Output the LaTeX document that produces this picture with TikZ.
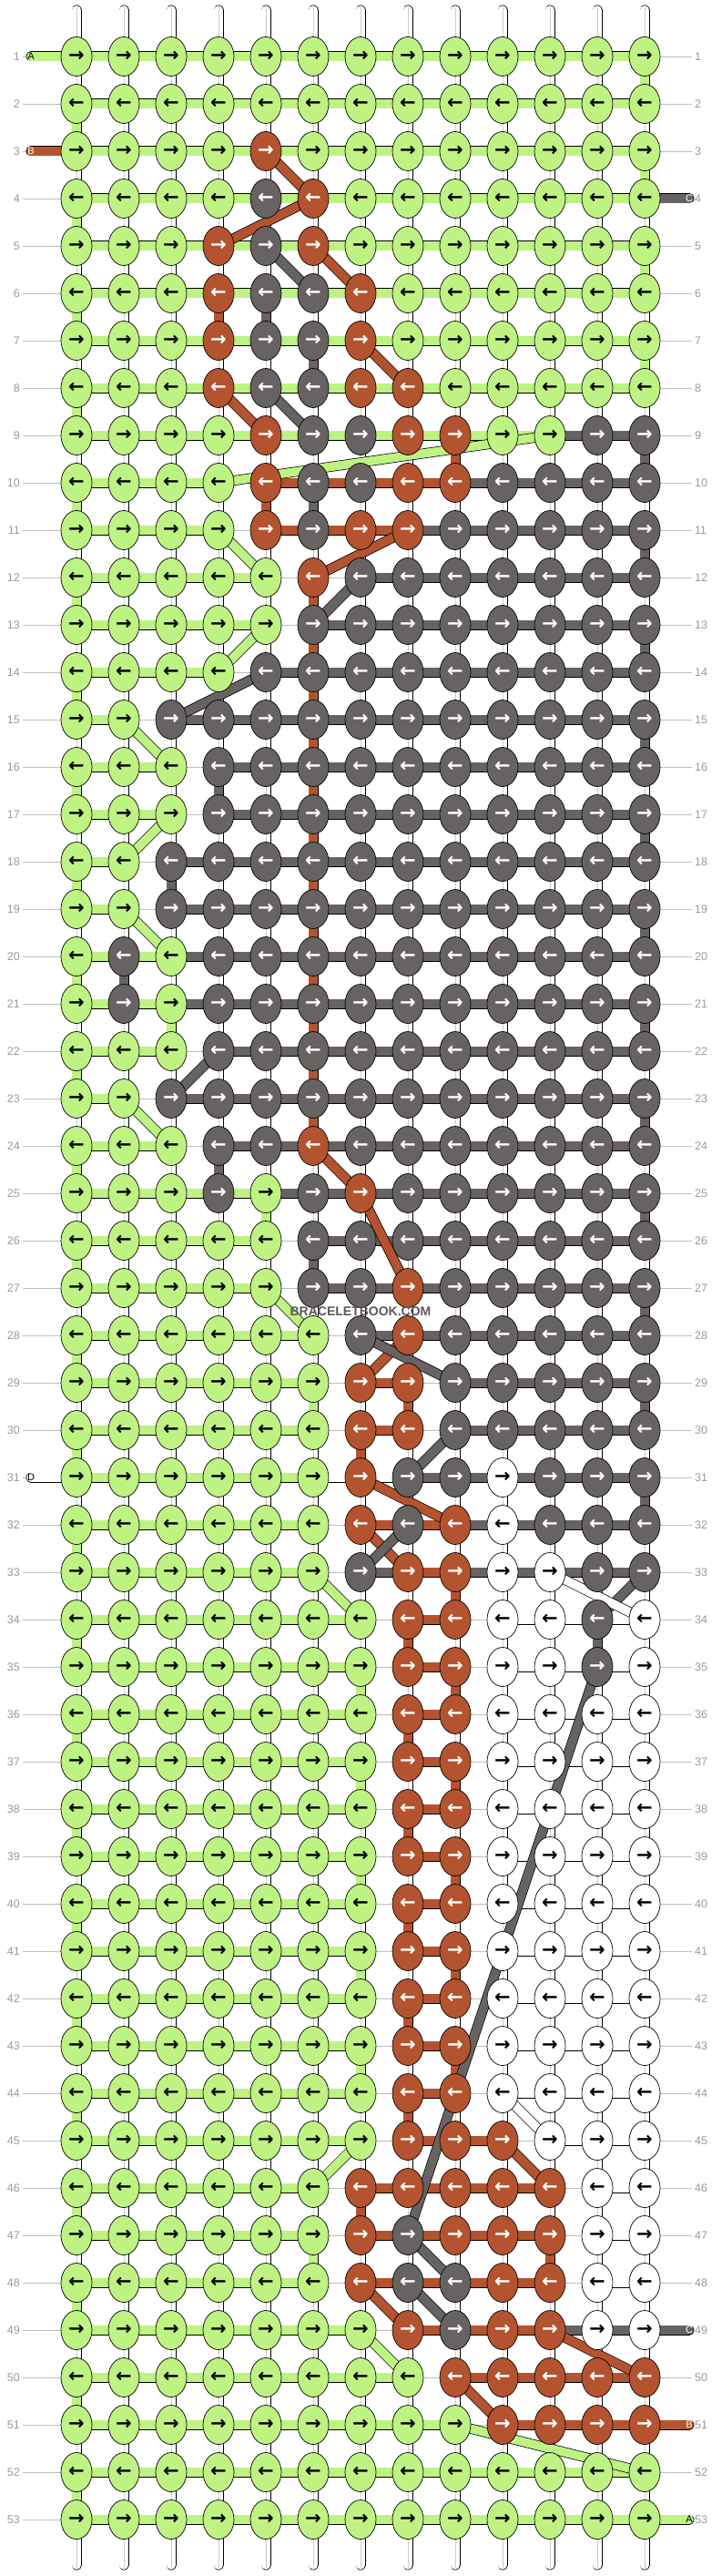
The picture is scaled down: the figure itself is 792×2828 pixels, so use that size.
\documentclass[tikz,border=0pt]{standalone}
\usepackage{fontspec}
\setmainfont{Liberation Sans}
\newfontfamily\arrowfont{DejaVu Sans}
\usepackage{xstring}
\usetikzlibrary{shapes.geometric}

% thread colours and the arrow colour on each
\definecolor{G}{HTML}{BEF282}
\definecolor{B}{HTML}{B4532F}
\definecolor{K}{HTML}{676362}
\definecolor{W}{HTML}{FFFFFF}
\colorlet{tG}{black}
\colorlet{tB}{white}
\colorlet{tK}{white}
\colorlet{tW}{black}

\pgfdeclarelayer{strings}
\pgfdeclarelayer{threads}
\pgfsetlayers{strings,threads,main}

% one row of knots: row, knot colours, row numbers
\newcommand\placeknots[4]{%
  \foreach \cc in {1,...,13} {%
    \StrChar{#2}{\cc}[\kc]%
    \node[knot=\kc,text=t\kc] (k-#1-\cc) at ({84+52*(\cc-1)},{62+52*(#1-1)})
      {\ifodd#1\relax →\else ←\fi};
  }%
  \node[rowlab,anchor=east] (ll-#1) at (25,{62+52*(#1-1)}) {#1};
  \node[rowlab,anchor=west] (rl-#1) at (760,{62+52*(#1-1)}) {#1};
}
% threads of one row: along the row, then down to the next row
\newcommand\drawthreads[4]{%
  \foreach \cc in {1,...,12} {%
    \pgfmathtruncatemacro\cn{\cc+1}%
    \StrChar{#3}{\cc}[\sc]%
    \IfStrEq{\sc}{-}{}{\draw[thread=\sc] (k-#1-\cc.center) -- (k-#1-\cn.center);}%
  }%
  \ifnum#1<53
    \pgfmathtruncatemacro\rn{#1+1}%
    \foreach \cc in {1,...,13} {%
      \StrChar{#4}{\cc}[\vc]%
      \IfStrEq{\vc}{-}{}{\draw[thread=\vc] (k-#1-\cc.center) -- (k-\rn-\cc.center);}%
    }%
  \fi
}

% row / knot colours / threads along the row / threads down to next row
\def\knotrows{%
\prow{1}{GGGGGGGGGGGGG}{GGGGGGGGGGGG}{------------G}%
\prow{2}{GGGGGGGGGGGGG}{GGGGGGGGGGGG}{G------------}%
\prow{3}{GGGGBGGGGGGGG}{GGGGGGGGGGGG}{------------G}%
\prow{4}{GGGGKBGGGGGGG}{GGGGGGGGGGGG}{G------------}%
\prow{5}{GGGBKBGGGGGGG}{GGGGGGGGGGGG}{------------G}%
\prow{6}{GGGBKKBGGGGGG}{GGGGGGGGGGGG}{G--BK--------}%
\prow{7}{GGGBKKBGGGGGG}{GGGGGGGGGGGG}{-----K------G}%
\prow{8}{GGGBKKBBGGGGG}{GGGGGGGGGGGG}{G------------}%
\prow{9}{GGGGBKKBBGGKK}{GGGGGGGGGGKK}{--------B---K}%
\prow{10}{GGGGBKKBBKKKK}{GGG-BBBBKKKK}{G---BK-------}%
\prow{11}{GGGGBKBBKKKKK}{GGG-BBBKKKKK}{------------K}%
\prow{12}{GGGGGBKKKKKKK}{GGGG--KKKKKK}{G----B-------}%
\prow{13}{GGGGGKKKKKKKK}{GGGG-KKKKKKK}{-----B------K}%
\prow{14}{GGGGKKKKKKKKK}{GGG-KKKKKKKK}{G----B-------}%
\prow{15}{GGKKKKKKKKKKK}{G-KKKKKKKKKK}{-----B------K}%
\prow{16}{GGGKKKKKKKKKK}{GG-KKKKKKKKK}{G--K-B-------}%
\prow{17}{GGGKKKKKKKKKK}{GG-KKKKKKKKK}{-----B------K}%
\prow{18}{GGKKKKKKKKKKK}{G-KKKKKKKKKK}{G-K--B-------}%
\prow{19}{GGKKKKKKKKKKK}{G-KKKKKKKKKK}{-----B------K}%
\prow{20}{GKGKKKKKKKKKK}{GGKKKKKKKKKK}{GK---B-------}%
\prow{21}{GKGKKKKKKKKKK}{GGKKKKKKKKKK}{--G--B------K}%
\prow{22}{GGGKKKKKKKKKK}{GG-KKKKKKKKK}{G----B-------}%
\prow{23}{GGKKKKKKKKKKK}{G-KKKKKKKKKK}{-----B------K}%
\prow{24}{GGGKKBKKKKKKK}{GG-KKKKKKKKK}{G--K---------}%
\prow{25}{GGGKGKBKKKKKK}{GGGGKKKKKKKK}{----G-------K}%
\prow{26}{GGGGGKKKKKKKK}{GGGG-KKKKKKK}{G----K-------}%
\prow{27}{GGGGGKKBKKKKK}{GGGG-KKKKKKK}{------------K}%
\prow{28}{GGGGGGKBKKKKK}{GGGGG-KKKKKK}{G------------}%
\prow{29}{GGGGGGBBKKKKK}{GGGGG-B-KKKK}{-----G-B----K}%
\prow{30}{GGGGGGBBKKKKK}{GGGGG-B-KKKK}{G-----B------}%
\prow{31}{GGGGGGBKKWKKK}{GGGGGWWKKKKK}{------------K}%
\prow{32}{GGGGGGBKBWKKK}{GGGGG-BBKKKK}{G------------}%
\prow{33}{GGGGGGKBBWWKK}{GGGGG-KBKKKK}{--------B----}%
\prow{34}{GGGGGGGBBWWKW}{GGGGGG-B-WWW}{G------B---K-}%
\prow{35}{GGGGGGGBBWWKW}{GGGGGG-B-WWW}{------G-B----}%
\prow{36}{GGGGGGGBBWWWW}{GGGGGG-B-WWW}{G------B-----}%
\prow{37}{GGGGGGGBBWWWW}{GGGGGG-B-WWW}{------G-B----}%
\prow{38}{GGGGGGGBBWWWW}{GGGGGG-B-WWW}{G------B-----}%
\prow{39}{GGGGGGGBBWWWW}{GGGGGG-B-WWW}{------G-B----}%
\prow{40}{GGGGGGGBBWWWW}{GGGGGG-B-WWW}{G------B-----}%
\prow{41}{GGGGGGGBBWWWW}{GGGGGG-B-WWW}{------G-B----}%
\prow{42}{GGGGGGGBBWWWW}{GGGGGG-B-WWW}{G------B-----}%
\prow{43}{GGGGGGGBBWWWW}{GGGGGG-B-WWW}{------G-B----}%
\prow{44}{GGGGGGGBBWWWW}{GGGGGG-B-WWW}{G------B-----}%
\prow{45}{GGGGGGGBBBWWW}{GGGGGG-BB-WW}{-------------}%
\prow{46}{GGGGGGBBBBBWW}{GGGGG-BBBB-W}{G-----B------}%
\prow{47}{GGGGGGBKBBBWW}{GGGGG-BBBB-W}{-----G----B--}%
\prow{48}{GGGGGGBKKBBWW}{GGGGG-BBBB-W}{G------------}%
\prow{49}{GGGGGGGBKBBWW}{GGGGGG-BBBKK}{-------------}%
\prow{50}{GGGGGGGGBBBBB}{GGGGGGG-BBBB}{G------------}%
\prow{51}{GGGGGGGGGBBBB}{GGGGGGGG-BBB}{-------------}%
\prow{52}{GGGGGGGGGGGGG}{GGGGGGGGGGGG}{G------------}%
\prow{53}{GGGGGGGGGGGGG}{GGGGGGGGGGGG}{-------------}%
}

\begin{document}
\begin{tikzpicture}[x=1pt,y=-1pt,
  knot/.style={ellipse,draw=black,line width=.7pt,fill=#1,minimum width=34pt,
    minimum height=43pt,inner sep=0pt,font=\arrowfont\bfseries\fontsize{21}{21}\selectfont},
  thread/.style={draw=black,line width=.7pt,double=#1,double distance=9.6pt},
  base/.style={thread=white,line cap=round},
  guide/.style={draw=black!25,line width=.8pt},
  rowlab/.style={text=black!40,font=\fontsize{12.5}{12.5}\selectfont,inner sep=3pt},
  pilltext/.style={font=\fontsize{11}{11}\selectfont,inner sep=0pt}]
\useasboundingbox (0,0) rectangle (792,2828);

% Knots and row numbers
\let\prow\placeknots
\knotrows

% Base strings and row guides
\begin{pgfonlayer}{strings}
\foreach \row in {1,...,53}
  \draw[guide] (ll-\row) -- (rl-\row);
\foreach \cc in {1,...,13} {
  \draw[base] (k-1-\cc |- 0,11) -- (k-53-\cc |- 0,2816);
  \draw[black!20,line width=.5pt] (k-1-\cc |- 0,8) -- (k-53-\cc |- 0,2819);
}
\end{pgfonlayer}

% Threads
\begin{pgfonlayer}{threads}
\let\prow\drawthreads
\knotrows

% Diagonal threads
\foreach \kc/\ra/\ca/\rb/\cb in {B/3/5/4/6, B/4/6/5/4, K/5/5/6/6, B/5/6/6/7,
    B/7/7/8/8, B/8/4/9/5, K/8/5/9/6, G/9/11/10/4, G/11/4/12/5, B/11/8/12/6,
    K/12/7/13/6, G/13/5/14/4, K/14/5/15/3, G/15/2/16/3, G/17/3/18/2,
    G/19/2/20/3, K/22/4/23/3, G/23/2/24/3, B/24/6/25/7, B/25/7/27/8,
    G/27/5/28/6, B/28/8/29/7, K/28/7/29/9, K/30/9/31/8, B/31/7/32/9,
    B/32/7/33/8, K/32/8/33/7, G/33/6/34/7, K/33/13/34/12, W/33/11/34/13,
    K/35/12/47/8, W/44/10/45/11, G/45/7/46/6, B/45/10/46/11, K/47/8/48/9,
    B/48/7/49/8, K/48/8/49/9, G/49/7/50/8, B/49/11/50/13, B/50/9/51/10,
    G/51/9/52/13}
  \draw[thread=\kc] (k-\ra-\ca.center) -- (k-\rb-\cb.center);

% Thread ends
\foreach \row/\kc/\lt in {1/G/A, 3/B/B, 31/W/D} {
  \coordinate (pl-\row) at (34,{62+52*(\row-1)});
  \draw[thread=\kc,line cap=round] (pl-\row) -- (k-\row-1.center);
  \node[pilltext,text=t\kc] (plt-\row) at (pl-\row) {\lt};
}
\foreach \row/\kc/\lt in {4/K/C, 49/K/C, 51/B/B, 53/G/A} {
  \coordinate (pr-\row) at (757,{62+52*(\row-1)});
  \draw[thread=\kc,line cap=round] (k-\row-13.center) -- (pr-\row);
  \node[pilltext,text=t\kc] (prt-\row) at (pr-\row) {\lt};
}
\end{pgfonlayer}

\node[font=\bfseries\fontsize{14}{14}\selectfont,text=black!65] (wm) at (396,1440) {BRACELETBOOK.COM};
\end{tikzpicture}
\end{document}
